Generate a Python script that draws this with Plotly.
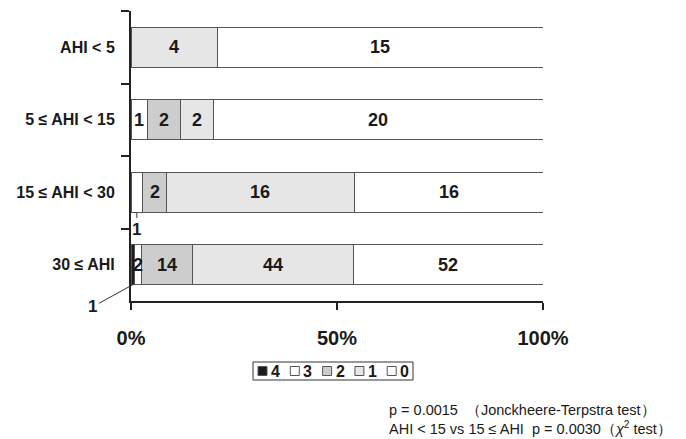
import plotly.graph_objects as go

# Severity groups (top to bottom) and the number of patients per score
groups = ["AHI < 5", "5 ≤ AHI < 15", "15 ≤ AHI < 30", "30 ≤ AHI"]
totals = [19, 25, 35, 113]
scores = ["4", "3", "2", "1", "0"]
counts = {
    "4": [0, 0, 0, 1],
    "3": [0, 1, 1, 2],
    "2": [0, 2, 2, 14],
    "1": [4, 2, 16, 44],
    "0": [15, 20, 16, 52],
}
colors = {"4": "#1c1c1c", "3": "#ffffff", "2": "#cdcdcd", "1": "#e6e6e6", "0": "#ffffff"}

# Segments too narrow for an inside label: (score, group index, text offset px)
outside_labels = [("3", 2, (0, 17)), ("4", 3, (-40, 22))]

p_lines = [
    "p = 0.0015 \u00a0（Jonckheere-Terpstra test）",
    "AHI < 15 vs 15 ≤ AHI  p = 0.0030（<i>χ</i><sup>2</sup> test）",
]

FONT = "Liberation Sans, Arial, sans-serif"
INK = "#1a1a1a"

# Canvas and plot-area geometry in pixels
W, H = 686, 439
L, R, T, B = 131, 143, 11, 138
pw, ph = W - L - R, H - T - B


def px_x(x):
    return (x - L) / pw


def px_y(y):
    return (H - B - y) / ph


fig = go.Figure()
for s in scores:
    pct = [c / t * 100 for c, t in zip(counts[s], totals)]
    fig.add_trace(go.Bar(
        y=groups, x=pct, name=s, orientation="h", width=0.55,
        marker=dict(color=colors[s], line=dict(color="#555555", width=1)),
        hoverinfo="skip", showlegend=False,
    ))

# Count labels at each segment centre
left = [0.0] * len(groups)
centers = {}
for s in scores:
    for i, (c, t) in enumerate(zip(counts[s], totals)):
        w = c / t * 100
        centers[(s, i)] = left[i] + w / 2
        left[i] += w

skip = {(s, i) for s, i, _ in outside_labels}
for s in scores:
    for i, c in enumerate(counts[s]):
        if c == 0 or (s, i) in skip:
            continue
        fig.add_annotation(
            x=centers[(s, i)], y=i, xref="x", yref="y", text=str(c),
            showarrow=False, font=dict(family=FONT, size=18, color=INK),
        )

for s, i, (ax, ay) in outside_labels:
    fig.add_annotation(
        x=centers[(s, i)], y=i + 0.275, xref="x", yref="y",
        text=str(counts[s][i]), showarrow=True, arrowhead=0, arrowwidth=1,
        arrowcolor="#333333", ax=ax, ay=ay, standoff=0,
        font=dict(family=FONT, size=17, color=INK),
    )

# Group sizes to the right of each bar
for i, t in enumerate(totals):
    fig.add_annotation(
        x=103.5, y=i, xref="x", yref="y", text=f"n={t}", xanchor="left",
        yshift=-4, showarrow=False,
        font=dict(family=FONT, size=14, color=INK, weight="normal"),
    )

# Legend: small swatch + score, inside a framed box
box_x0, box_x1, box_y0, box_y1 = 253, 413, 362, 380
fig.add_shape(type="rect", xref="paper", yref="paper",
              x0=px_x(box_x0), x1=px_x(box_x1), y0=px_y(box_y1), y1=px_y(box_y0),
              line=dict(color="#333333", width=1), fillcolor="white", layer="above")
for k, s in enumerate(scores):
    sx = 258 + 32.3 * k
    fig.add_shape(type="rect", xref="paper", yref="paper",
                  x0=px_x(sx), x1=px_x(sx + 9), y0=px_y(375.5), y1=px_y(366.5),
                  line=dict(color="#555555", width=1), fillcolor=colors[s],
                  layer="above")
    fig.add_annotation(x=px_x(sx + 11), y=px_y(371), xref="paper", yref="paper",
                       text=s, xanchor="left", yanchor="middle", showarrow=False,
                       font=dict(family=FONT, size=16, color=INK))

# Test results below the legend
for k, line in enumerate(p_lines):
    fig.add_annotation(
        x=px_x(387), y=px_y(410 + 18 * k), xref="paper", yref="paper", text=line,
        xanchor="left", yanchor="middle", showarrow=False,
        font=dict(family=FONT, size=14.5, color=INK, weight="normal"),
    )

fig.update_layout(
    width=W, height=H, margin=dict(l=L, r=R, t=T, b=B, pad=0),
    barmode="stack", plot_bgcolor="white", paper_bgcolor="white",
    font=dict(family=FONT, size=15, color=INK, weight="bold"),
    showlegend=False,
    xaxis=dict(
        range=[0, 100], tickvals=[0, 50, 100], ticktext=["0%", "50%", "100%"],
        showgrid=False, zeroline=False, showline=True, linecolor="#222222",
        linewidth=2, ticks="outside", ticklen=7, tickwidth=2, tickcolor="#222222",
        tickfont=dict(family=FONT, size=20, weight="bold"), ticklabelstandoff=11,
    ),
    yaxis=dict(
        categoryorder="array", categoryarray=groups, autorange="reversed",
        showgrid=False, zeroline=False, showline=True, linecolor="#222222",
        linewidth=2, ticks="outside", ticklen=8, tickwidth=2, tickcolor="#222222",
        tickson="boundaries", ticklabelstandoff=11,
        tickfont=dict(family=FONT, size=16, weight="bold"),
    ),
)

fig.write_html("out.html")
